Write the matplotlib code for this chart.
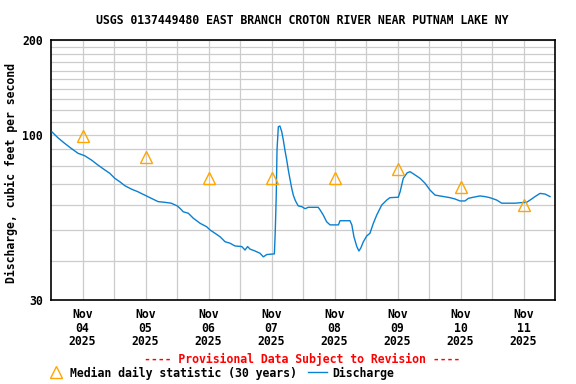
import matplotlib
matplotlib.use("Agg")
import matplotlib.pyplot as plt
from matplotlib.lines import Line2D
from matplotlib.ticker import FixedLocator, NullFormatter

# hours since 2025-11-04 00:00, discharge in cfs
hours = [0.4, 2.7, 5.2, 7.7, 10.3, 12.8, 15.4, 17.9, 20.5, 22.4,
         24.3, 26.2, 28.1, 30.6, 33.1, 35.7, 38.2, 40.8, 43.3, 45.8,
         48.1, 49.1, 50.4, 52.3, 54.2, 56.8, 59.3, 60.6, 62.5, 64.4,
         66.3, 68.2, 70.1, 72.7, 73.9, 74.9, 75.8, 77.7, 79.6, 80.9,
         82.2, 85.1, 85.45, 85.8, 86.1, 86.6, 87.2, 87.9, 88.5, 89.1,
         89.8, 90.4, 91.1, 91.7, 92.3, 93.0, 93.6, 94.2, 95.5, 96.8,
         98.0, 100.6, 101.8, 102.5, 103.7, 105.0, 106.3, 109.5, 110.1, 113.9,
         114.6, 115.4, 116.5, 117.3, 118.0, 119.0, 120.3, 121.5, 122.8, 124.1,
         126.0, 127.9, 129.1, 132.3, 133.0, 134.2, 135.7, 136.8, 138.7, 140.6,
         142.5, 144.4, 146.3, 148.2, 152.0, 153.9, 155.8, 157.7, 159.0, 160.9,
         163.4, 165.3, 167.2, 169.8, 171.7, 174.2, 176.8, 178.7, 181.2, 182.5,
         184.4, 186.3, 188.2, 190.1]
discharge = [102.2, 97.9, 94.1, 90.7, 87.5, 86.0, 83.3, 80.3, 77.5, 75.6,
             72.9, 71.1, 69.1, 67.4, 66.1, 64.5, 63.0, 61.5, 61.2, 60.8,
             59.6, 58.6, 57.1, 56.5, 54.5, 52.5, 51.2, 50.0, 48.8, 47.6,
             45.9, 45.4, 44.5, 44.3, 43.2, 44.3, 43.5, 42.9, 42.2, 41.1,
             41.8, 42.0, 50.0, 63.8, 89.7, 106.2, 106.8, 102.4, 96.4, 89.7,
             83.3, 77.5, 72.0, 67.8, 64.5, 62.2, 60.8, 59.6, 59.3, 58.4,
             59.0, 59.0, 59.0, 57.9, 55.8, 53.1, 51.9, 51.9, 53.5, 53.5,
             51.9, 47.6, 44.3, 42.9, 43.8, 45.9, 47.9, 48.8, 52.5, 55.8,
             60.0, 62.2, 63.3, 63.5, 66.1, 72.9, 75.9, 76.5, 74.7, 72.9,
             70.3, 66.9, 64.5, 64.1, 63.3, 62.7, 61.8, 61.8, 63.0, 63.5,
             64.1, 63.8, 63.3, 62.2, 60.8, 60.8, 60.8, 61.0, 61.2, 62.2,
             63.8, 65.3, 65.0, 63.8]

median_hours = [12, 36, 60, 84, 108, 132, 156, 180]
median_values = [99, 85, 73, 73, 73, 78, 68.6, 60]

day_labels = ["Nov\n04\n2025", "Nov\n05\n2025", "Nov\n06\n2025", "Nov\n07\n2025",
              "Nov\n08\n2025", "Nov\n09\n2025", "Nov\n10\n2025", "Nov\n11\n2025"]

title = "USGS 0137449480 EAST BRANCH CROTON RIVER NEAR PUTNAM LAKE NY"

plt.rcParams['font.family'] = 'DejaVu Sans Mono'
plt.rcParams['font.weight'] = 'bold'
fs = 8.3
blue = '#0a80d0'
orange = '#ffa500'

fig = plt.figure(figsize=(5.76, 3.84), dpi=100)
ax = fig.add_axes([51 / 576, 1 - 300 / 384, 504 / 576, 260 / 384])

ax.plot(hours, discharge, color=blue, linewidth=1.0, zorder=3)
ax.plot(median_hours, median_values, linestyle='none', marker='^', markersize=8,
        markerfacecolor='none', markeredgecolor=orange, markeredgewidth=1.0, zorder=4)

ax.set_yscale('log')
ax.set_ylim(30, 200)
ax.set_xlim(0, 192)

ax.yaxis.set_major_locator(FixedLocator([30, 100, 200]))
ax.set_yticklabels(['30', '100', '200'], fontsize=fs, fontweight='bold')
ax.yaxis.set_minor_locator(FixedLocator([40, 50, 60, 70, 80, 90, 110, 120, 130,
                                          140, 150, 160, 170, 180, 190]))
ax.yaxis.set_minor_formatter(NullFormatter())

ax.xaxis.set_major_locator(FixedLocator([24 * k for k in range(1, 8)]))
ax.xaxis.set_major_formatter(NullFormatter())
ax.xaxis.set_minor_locator(FixedLocator(median_hours))
ax.set_xticklabels(day_labels, minor=True, fontsize=fs, fontweight='bold',
                   linespacing=1.05)

ax.tick_params(which='both', length=0)
ax.tick_params(axis='x', which='minor', pad=6)
ax.tick_params(axis='y', which='major', pad=6)
ax.grid(True, which='both', color='#cccccc', linewidth=0.9)
ax.set_axisbelow(True)
for sp in ax.spines.values():
    sp.set_linewidth(1.2)

ax.set_ylabel("Discharge, cubic feet per second", fontsize=fs, fontweight='bold')
ax.yaxis.set_label_coords(-0.066, 0.49)

fig.text(302 / 576, 1 - 20 / 384, title, ha='center', va='center',
         fontsize=fs, fontweight='bold')
fig.text(302 / 576, 1 - 359 / 384, "---- Provisional Data Subject to Revision ----",
         ha='center', va='center', fontsize=fs, fontweight='bold', color='red')

# legend row
fig.add_artist(Line2D([56 / 576], [1 - 372 / 384], marker='^', markersize=8,
                      markerfacecolor='none', markeredgecolor=orange,
                      markeredgewidth=1.0, transform=fig.transFigure))
fig.text(70 / 576, 1 - 373 / 384, "Median daily statistic (30 years)",
         ha='left', va='center', fontsize=fs, fontweight='bold')
fig.add_artist(Line2D([308 / 576, 327 / 576], [1 - 372 / 384, 1 - 372 / 384],
                      color=blue, linewidth=1.0, transform=fig.transFigure))
fig.text(332 / 576, 1 - 373 / 384, "Discharge", ha='left', va='center',
         fontsize=fs, fontweight='bold')

fig.savefig('out.png', dpi=100)
